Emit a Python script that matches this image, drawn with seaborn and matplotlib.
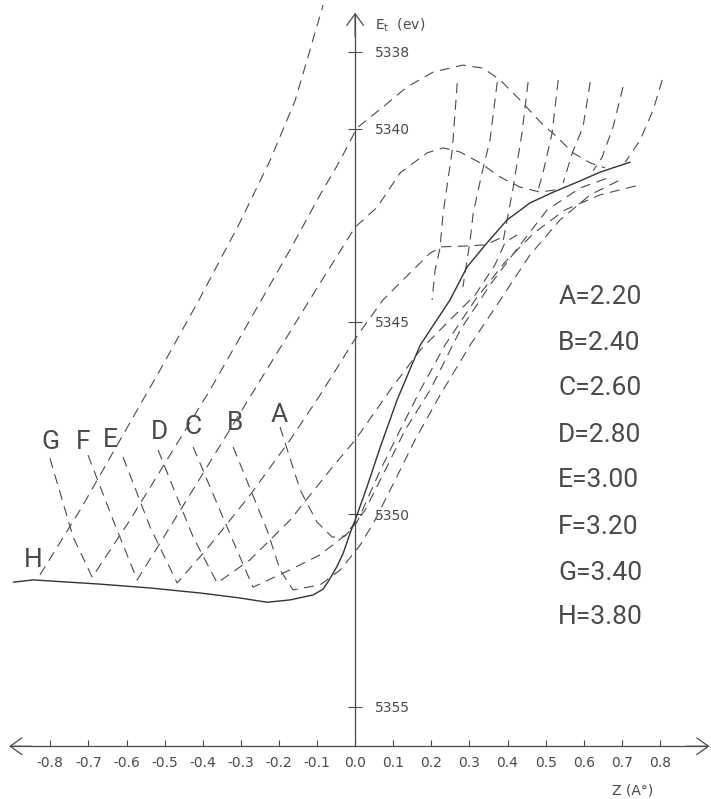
import matplotlib
matplotlib.use('Agg')
import matplotlib.pyplot as plt
import seaborn as sns

# Values: Z in Angstrom, E_t in eV
# solid envelope
env_z = [-0.897, -0.845, -0.669, -0.538, -0.407, -0.302, -0.231, -0.171, -0.110, -0.084, -0.066,
         -0.047, -0.031, -0.013, 0.000, 0.031, 0.066, 0.110, 0.171, 0.249, 0.294, 0.346, 0.399,
         0.459, 0.520, 0.583, 0.643, 0.722]
env_e = [5351.77, 5351.71, 5351.82, 5351.92, 5352.05, 5352.18, 5352.29, 5352.23, 5352.10, 5351.95,
         5351.68, 5351.35, 5351.01, 5350.49, 5350.16, 5349.30, 5348.26, 5347.04, 5345.61, 5344.44,
         5343.58, 5342.96, 5342.36, 5341.92, 5341.64, 5341.38, 5341.12, 5340.86]

# dashed curves, one per distance
z_H = [-0.827, -0.722, -0.617, -0.512, -0.407, -0.302, -0.223, -0.157, -0.084]
E_H = [5351.58, 5349.90, 5348.08, 5346.26, 5344.39, 5342.42, 5340.81, 5339.25, 5336.78]

z_G = [-0.801, -0.740, -0.690, -0.591, -0.486, -0.381, -0.276, -0.171, -0.092, -0.039, 0.005,
       0.073, 0.136, 0.205, 0.283, 0.336, 0.381, 0.433, 0.486, 0.530, 0.572, 0.617, 0.656]
E_G = [5348.55, 5350.60, 5351.64, 5350.16, 5348.47, 5346.78, 5344.96, 5343.14, 5341.71, 5340.81,
       5339.97, 5339.43, 5338.91, 5338.52, 5338.34, 5338.42, 5338.73, 5339.25, 5339.82, 5340.21,
       5340.62, 5340.88, 5341.01]

z_F = [-0.701, -0.635, -0.572, -0.486, -0.381, -0.276, -0.171, -0.092, -0.039, 0.000, 0.058,
       0.118, 0.189, 0.231, 0.276, 0.328, 0.381, 0.433, 0.486, 0.525]
E_F = [5348.47, 5350.16, 5351.71, 5350.34, 5348.65, 5346.96, 5345.27, 5344.00, 5343.17, 5342.55,
       5342.03, 5341.14, 5340.62, 5340.49, 5340.60, 5340.88, 5341.25, 5341.51, 5341.64, 5341.58]

z_E = [-0.609, -0.538, -0.467, -0.381, -0.276, -0.171, -0.092, 0.000, 0.073, 0.144, 0.197, 0.228,
       0.289, 0.341, 0.394]
E_E = [5348.52, 5350.34, 5351.79, 5350.81, 5349.51, 5348.08, 5346.91, 5345.45, 5344.44, 5343.74,
       5343.22, 5343.06, 5343.04, 5343.01, 5342.78]

z_D = [-0.517, -0.425, -0.362, -0.276, -0.171, -0.066, 0.000, 0.092, 0.171, 0.249, 0.315, 0.367,
       0.394, 0.425]
E_D = [5348.34, 5350.60, 5351.79, 5351.19, 5350.16, 5348.86, 5348.08, 5346.78, 5345.74, 5344.96,
       5344.31, 5343.53, 5342.94, 5342.75]

z_C = [-0.425, -0.336, -0.268, -0.171, -0.092, -0.026, 0.026, 0.079, 0.131, 0.197, 0.276, 0.354,
       0.433, 0.504, 0.591, 0.669]
E_C = [5348.26, 5350.34, 5351.90, 5351.45, 5351.06, 5350.55, 5349.90, 5348.86, 5347.82, 5346.78,
       5345.22, 5344.05, 5343.01, 5342.10, 5341.53, 5341.25]

z_B = [-0.320, -0.231, -0.197, -0.163, -0.092, -0.039, 0.013, 0.052, 0.105, 0.157, 0.223, 0.302,
       0.381, 0.459, 0.538, 0.617, 0.696]
E_B = [5348.26, 5350.42, 5351.45, 5351.97, 5351.84, 5351.45, 5350.81, 5350.16, 5349.12, 5348.08,
       5346.91, 5345.61, 5344.44, 5343.27, 5342.36, 5341.71, 5341.32]

z_A = [-0.197, -0.144, -0.100, -0.060, -0.026, 0.005, 0.031, 0.066, 0.118, 0.171, 0.236, 0.315,
       0.394, 0.472, 0.551, 0.643, 0.748]
E_A = [5347.74, 5349.38, 5350.21, 5350.60, 5350.57, 5350.21, 5349.64, 5348.86, 5347.82, 5346.78,
       5345.61, 5344.44, 5343.45, 5342.68, 5342.10, 5341.71, 5341.45]

# steep walls on the right-hand side
walls_z = [[0.268, 0.255, 0.231, 0.223, 0.210, 0.202],
           [0.373, 0.354, 0.333, 0.310, 0.302, 0.283],
           [0.454, 0.438, 0.415, 0.399, 0.389],
           [0.533, 0.517, 0.493, 0.478],
           [0.617, 0.598, 0.570, 0.546],
           [0.703, 0.677, 0.648, 0.625],
           [0.806, 0.782, 0.748, 0.709]]
walls_e = [[5338.81, 5340.55, 5342.18, 5343.08, 5343.66, 5344.44],
           [5338.78, 5340.29, 5341.14, 5342.18, 5342.88, 5344.10],
           [5338.78, 5340.10, 5341.51, 5342.36, 5342.88],
           [5338.73, 5340.10, 5341.14, 5341.66],
           [5338.78, 5339.95, 5340.62, 5341.40],
           [5338.91, 5339.95, 5340.74, 5341.08],
           [5338.73, 5339.51, 5340.29, 5340.86]]

# curve letters placed on the plot
curve_letters = ['G', 'F', 'E', 'D', 'C', 'B', 'A', 'H']
letter_z = [-0.800, -0.714, -0.643, -0.514, -0.425, -0.315, -0.199, -0.845]
letter_e = [5348.13, 5348.13, 5348.08, 5347.87, 5347.74, 5347.64, 5347.43, 5351.19]

# key on the right
key_letters = ['A', 'B', 'C', 'D', 'E', 'F', 'G', 'H']
key_values = [2.20, 2.40, 2.60, 2.80, 3.00, 3.20, 3.40, 3.80]
key_e = [5344.36, 5345.56, 5346.73, 5347.95, 5349.12, 5350.34, 5351.53, 5352.68]

z_ticks = [-0.8, -0.7, -0.6, -0.5, -0.4, -0.3, -0.2, -0.1, 0.0, 0.1, 0.2, 0.3, 0.4, 0.5, 0.6, 0.7, 0.8]
z_tick_labels = ['-0.8', '-0.7', '-0.6', '-0.5', '-0.4', '-0.3', '-0.2', '-0.1', '0.0',
                 '0.1', '0.2', '0.3', '0.4', '0.5', '0.6', '0.7', '0.8']
e_ticks = [5338, 5340, 5345, 5350, 5355]

sns.set_theme(style='white')
plt.rcParams['font.family'] = ['DejaVu Sans']

ink = '#4a4a4a'
dash = (0, (9, 6))
big_font = ['Roboto', 'DejaVu Sans']

fig = plt.figure(figsize=(7.11, 7.99), dpi=100)
ax = fig.add_axes([0, 0, 1, 1])

dashed = [(z_H, E_H), (z_G, E_G), (z_F, E_F), (z_E, E_E), (z_D, E_D), (z_C, E_C), (z_B, E_B), (z_A, E_A)]
dashed += list(zip(walls_z, walls_e))
for zs, es in dashed:
    sns.lineplot(x=zs, y=es, sort=False, estimator=None, ax=ax, color=ink, lw=0.8, linestyle=dash)
sns.lineplot(x=env_z, y=env_e, sort=False, estimator=None, ax=ax, color='#333333', lw=1.0)

ax.set_xlim(-0.932, 0.934)
ax.set_ylim(5357.40, 5336.65)
ax.set_xlabel('')
ax.set_ylabel('')
ax.grid(False)

# axes drawn through the origin like the hand-drawn original
axis_e = 5356.03
ax.spines['top'].set_visible(False)
ax.spines['left'].set_visible(False)
ax.spines['bottom'].set_position(('data', axis_e))
ax.spines['bottom'].set_bounds(-0.90, 0.925)
ax.spines['right'].set_position(('data', 0))
ax.spines['right'].set_bounds(5337.05, axis_e)
for s in ['bottom', 'right']:
    ax.spines[s].set_color(ink)
    ax.spines[s].set_linewidth(0.9)

ax.yaxis.tick_right()
ax.set_xticks(z_ticks, labels=z_tick_labels)
ax.set_yticks(e_ticks, labels=[str(v) for v in e_ticks])
ax.tick_params(axis='x', direction='in', length=4, width=0.8, pad=7, labelsize=10,
               colors=ink, bottom=True)
ax.tick_params(axis='y', direction='inout', length=10, width=0.8, pad=9, labelsize=10,
               colors=ink, right=True, left=False)

head = '->,head_length=0.7,head_width=0.5'
arrow_kw = dict(arrowstyle=head, color=ink, lw=0.9, shrinkA=0, shrinkB=0)
ax.annotate('', xy=(-0.908, axis_e), xytext=(-0.85, axis_e), arrowprops=arrow_kw)
ax.annotate('', xy=(0.930, axis_e), xytext=(0.87, axis_e), arrowprops=arrow_kw)
ax.annotate('', xy=(0, 5336.98), xytext=(0, 5337.6), arrowprops=arrow_kw)

ax.text(0.052, 5337.30, r'E$_{\mathregular{t}}$  (ev)', fontsize=10, color=ink, ha='left', va='center')
ax.text(0.727, 5357.18, 'Z (A°)', fontsize=10, color=ink, ha='center', va='center')

for lab, lz, le in zip(curve_letters, letter_z, letter_e):
    ax.text(lz, le, lab, fontsize=19, color=ink, ha='center', va='center', family=big_font)

for lab, val, ke in zip(key_letters, key_values, key_e):
    ax.text(0.533, ke, f'{lab}={val:.2f}', fontsize=19, color=ink, ha='left', va='center',
            family=big_font)

fig.savefig('out.png', dpi=100, facecolor='white')
